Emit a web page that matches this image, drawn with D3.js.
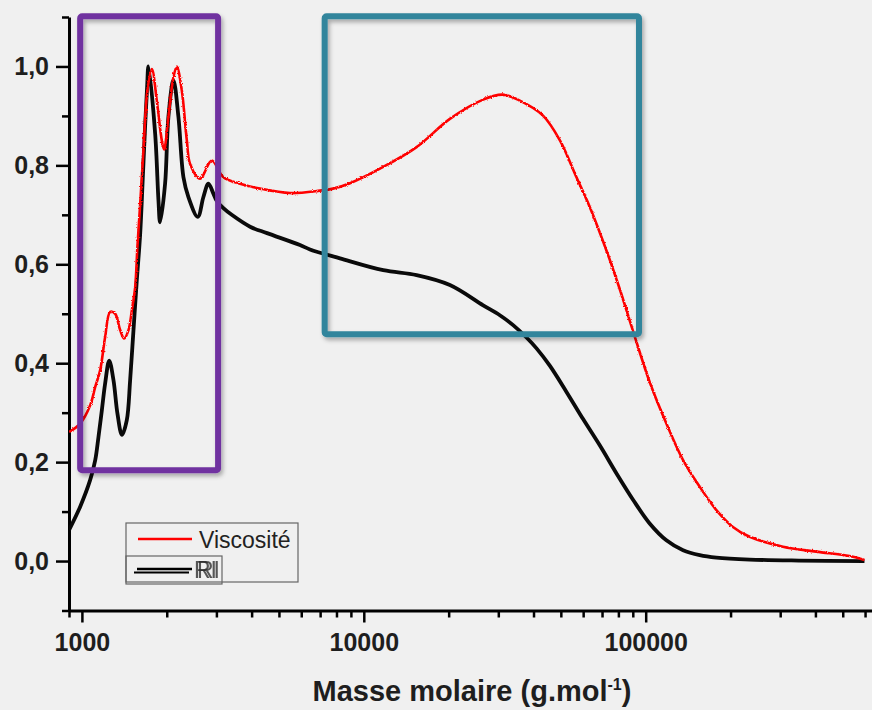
<!DOCTYPE html>
<html lang="fr">
<head>
    <meta charset="utf-8">
    <title>Masse molaire - Viscosité / RI</title>
    <script src="https://cdn.jsdelivr.net/npm/d3@7"></script>
    <style>
        body {
            margin: 0;
            background: #f0f0f0;
        }
        * {
            font-family: "Liberation Sans", Arial, sans-serif;
        }
        .tick text {
            font-size: 25px;
            font-weight: bold;
            fill: #1e1e1e;
        }
        .axis-title {
            font-size: 29px;
            font-weight: bold;
            fill: #1e1e1e;
        }
        .legend text {
            font-size: 23px;
            fill: #222;
        }
    </style>
</head>
<body>
<svg class="chart"></svg>
<script>
// series (molar mass in g/mol, normalised signal)
const viscMass = [901, 986, 1070, 1115, 1161, 1209, 1260, 1312, 1367, 1412, 1463, 1504, 1545, 1574, 1609, 1653, 1708, 1771,
    1844, 1920, 1957, 2027, 2112, 2171, 2261, 2356, 2420, 2626, 2888, 3177, 3639, 4284, 5473, 6991, 7776, 8933,
    11720, 15390, 20200, 26510, 31130, 35770, 43150, 49570, 56810, 63330, 72560, 80880, 90160, 103300, 118400,
    135700, 155500, 178100, 203900, 233700, 306700, 402600, 528400, 597100];
const viscValue = [0.261, 0.278, 0.315, 0.352, 0.386, 0.453, 0.504, 0.500, 0.467, 0.450, 0.467, 0.507, 0.554, 0.636, 0.720, 0.830, 0.952, 0.995,
    0.931, 0.851, 0.832, 0.898, 0.978, 1.000, 0.952, 0.851, 0.803, 0.773, 0.810, 0.776, 0.763, 0.753, 0.744, 0.749, 0.753, 0.764,
    0.797, 0.837, 0.894, 0.933, 0.943, 0.931, 0.901, 0.851, 0.776, 0.716, 0.628, 0.550, 0.465, 0.362, 0.278,
    0.204, 0.150, 0.103, 0.069, 0.049, 0.029, 0.019, 0.010, 0.002];

const riMass = [901, 986, 1070, 1115, 1145, 1177, 1209, 1250, 1294, 1337, 1387, 1443, 1483, 1524, 1566, 1609, 1643, 1676, 1704, 1722,
    1819, 1869, 1894, 1973, 2027, 2112, 2200, 2292, 2387, 2577, 2698, 2811, 2927, 3010, 3169, 3400, 3950, 4537, 5937, 6444, 8232,
    11720, 15390, 20200, 26510, 30380, 33860, 37770, 41000, 45680, 52360, 59970, 68710, 79780, 90160, 103300, 118400,
    135700, 155500, 178100, 233700, 350000, 597100];
const riValue = [0.063, 0.110, 0.164, 0.204, 0.251, 0.305, 0.359, 0.405, 0.366, 0.298, 0.255, 0.285, 0.366, 0.467, 0.568, 0.660, 0.770, 0.880, 0.960, 1.000,
    0.864, 0.729, 0.685, 0.763, 0.898, 0.972, 0.898, 0.776, 0.736, 0.696, 0.736, 0.763, 0.743, 0.728, 0.714, 0.700, 0.676, 0.663, 0.639, 0.630, 0.612,
    0.588, 0.578, 0.558, 0.517, 0.497, 0.477, 0.452, 0.430, 0.395, 0.342, 0.287, 0.234, 0.172, 0.124, 0.076, 0.042,
    0.022, 0.012, 0.007, 0.003, 0.001, 0.000];

const seriesNames = ["Viscosité", "RI"];
const xTicks = [1000, 10000, 100000];
const xTickLabels = ["1000", "10000", "100000"];
const yTicks = [0, 0.2, 0.4, 0.6, 0.8, 1.0];
const yTickLabels = ["0,0", "0,2", "0,4", "0,6", "0,8", "1,0"];
const yMinorTicks = [-0.1, 0.1, 0.3, 0.5, 0.7, 0.9, 1.1];

// highlighted zones [mass from, mass to, value top, value bottom]
const zoneOligo = [986, 3042, 1.1015, 0.1834];
const zonePoly = [7264, 94670, 1.1015, 0.4586];

const w = 872, h = 710;
const svg = d3.select("svg.chart").attr("width", w).attr("height", h);

const x = d3.scaleLog().domain([900, 635000]).range([69, 872]);
const y = d3.scaleLinear().domain([-0.1, 1.1]).range([610.5, 17]);

const defs = svg.append("defs");
defs.append("clipPath").attr("id", "plot")
    .append("rect").attr("x", 69).attr("y", 10).attr("width", 803).attr("height", 601);
// jagged look of the viscosity trace
const rough = defs.append("filter").attr("id", "rough")
    .attr("x", "-2%").attr("y", "-5%").attr("width", "104%").attr("height", "110%");
rough.append("feTurbulence").attr("type", "fractalNoise").attr("baseFrequency", 0.8)
    .attr("numOctaves", 1).attr("seed", 4).attr("result", "n");
rough.append("feDisplacementMap").attr("in", "SourceGraphic").attr("in2", "n")
    .attr("scale", 2.8).attr("xChannelSelector", "R").attr("yChannelSelector", "G");
const shadow = defs.append("filter").attr("id", "shadow")
    .attr("x", "-5%").attr("y", "-5%").attr("width", "115%").attr("height", "115%");
shadow.append("feDropShadow").attr("dx", 2).attr("dy", 3).attr("stdDeviation", 2)
    .attr("flood-color", "#000").attr("flood-opacity", 0.3);
// the doubled "RI" label of the original legend
const doubled = defs.append("filter").attr("id", "doubled")
    .attr("x", "-10%").attr("y", "-10%").attr("width", "130%").attr("height", "120%");
doubled.append("feOffset").attr("in", "SourceGraphic").attr("dx", 3).attr("dy", 0).attr("result", "o");
const merge = doubled.append("feMerge");
merge.append("feMergeNode").attr("in", "o");
merge.append("feMergeNode").attr("in", "SourceGraphic");

// axes: major ticks with labels, minor ticks without
const minorX = x.ticks().filter(t => !xTicks.includes(t));

svg.append("g")
    .attr("transform", "translate(0," + y(-0.1) + ")")
    .call(d3.axisBottom(x).tickValues(minorX).tickSize(7).tickSizeOuter(0).tickFormat(""))
    .call(g => g.select(".domain").remove())
    .call(g => g.selectAll("line").attr("stroke", "#000").attr("stroke-width", 2.5));

svg.append("g")
    .attr("transform", "translate(0," + y(-0.1) + ")")
    .call(d3.axisBottom(x).tickValues(xTicks).tickSize(12).tickSizeOuter(0).tickPadding(11)
        .tickFormat((d, i) => xTickLabels[i]))
    .call(g => g.select(".domain").attr("stroke", "#000").attr("stroke-width", 3))
    .call(g => g.selectAll("line").attr("stroke", "#000").attr("stroke-width", 2.5));

svg.append("g")
    .attr("transform", "translate(" + x(900) + ",0)")
    .call(d3.axisLeft(y).tickValues(yMinorTicks).tickSize(7).tickSizeOuter(0).tickFormat(""))
    .call(g => g.select(".domain").remove())
    .call(g => g.selectAll("line").attr("stroke", "#000").attr("stroke-width", 2.5));

svg.append("g")
    .attr("transform", "translate(" + x(900) + ",0)")
    .call(d3.axisLeft(y).tickValues(yTicks).tickSize(13).tickSizeOuter(0).tickPadding(7)
        .tickFormat((d, i) => yTickLabels[i]))
    .call(g => g.select(".domain").attr("stroke", "#000").attr("stroke-width", 3))
    .call(g => g.selectAll("line").attr("stroke", "#000").attr("stroke-width", 2.5));

// axis title with superscript
const title = svg.append("text").attr("class", "axis-title")
    .attr("x", 472).attr("y", 701).attr("text-anchor", "middle");
title.append("tspan").text("Masse molaire (g.mol");
title.append("tspan").attr("dy", -11).style("font-size", "16px").text("-1");
title.append("tspan").attr("dy", 11).text(")");

// curves
const line = d3.line()
    .x(d => x(d[0]))
    .y(d => y(d[1]))
    .curve(d3.curveCatmullRom.alpha(0.5));

const plot = svg.append("g").attr("clip-path", "url(#plot)");

plot.append("path")
    .datum(riMass.map((m, i) => [m, riValue[i]]))
    .attr("d", line)
    .attr("fill", "none")
    .attr("stroke", "#0a0a0a")
    .attr("stroke-width", 3.8)
    .attr("stroke-linejoin", "round");

plot.append("path")
    .datum(viscMass.map((m, i) => [m, viscValue[i]]))
    .attr("d", line)
    .attr("fill", "none")
    .attr("stroke", "#ff0000")
    .attr("stroke-width", 2.6)
    .attr("filter", "url(#rough)");

// annotation frames
function zone(z, color) {
    svg.append("rect")
        .attr("x", x(z[0]))
        .attr("y", y(z[2]))
        .attr("width", x(z[1]) - x(z[0]))
        .attr("height", y(z[3]) - y(z[2]))
        .attr("rx", 2)
        .attr("fill", "none")
        .attr("stroke", color)
        .attr("stroke-width", 6)
        .attr("filter", "url(#shadow)");
}
zone(zoneOligo, "#7030a0");
zone(zonePoly, "#31859c");

// legend (two overlapping frames like the original)
const legend = svg.append("g").attr("class", "legend");
legend.append("rect").attr("x", 126).attr("y", 523).attr("width", 172).attr("height", 59)
    .attr("fill", "none").attr("stroke", "#666").attr("stroke-width", 1.2);
legend.append("rect").attr("x", 126).attr("y", 556).attr("width", 96).attr("height", 28)
    .attr("fill", "none").attr("stroke", "#666").attr("stroke-width", 1.2);

legend.append("line").attr("x1", 138).attr("x2", 192).attr("y1", 539).attr("y2", 539)
    .attr("stroke", "#ff0000").attr("stroke-width", 2.5);
legend.append("text").attr("x", 199).attr("y", 548).text(seriesNames[0]);

legend.append("line").attr("x1", 137).attr("x2", 192).attr("y1", 569).attr("y2", 569)
    .attr("stroke", "#000").attr("stroke-width", 2.5);
legend.append("line").attr("x1", 134).attr("x2", 189).attr("y1", 572.5).attr("y2", 572.5)
    .attr("stroke", "#000").attr("stroke-width", 2.2);
legend.append("text").attr("x", 194).attr("y", 578).attr("fill-opacity", 0.75)
    .attr("filter", "url(#doubled)").text(seriesNames[1]);
</script>
</body>
</html>
